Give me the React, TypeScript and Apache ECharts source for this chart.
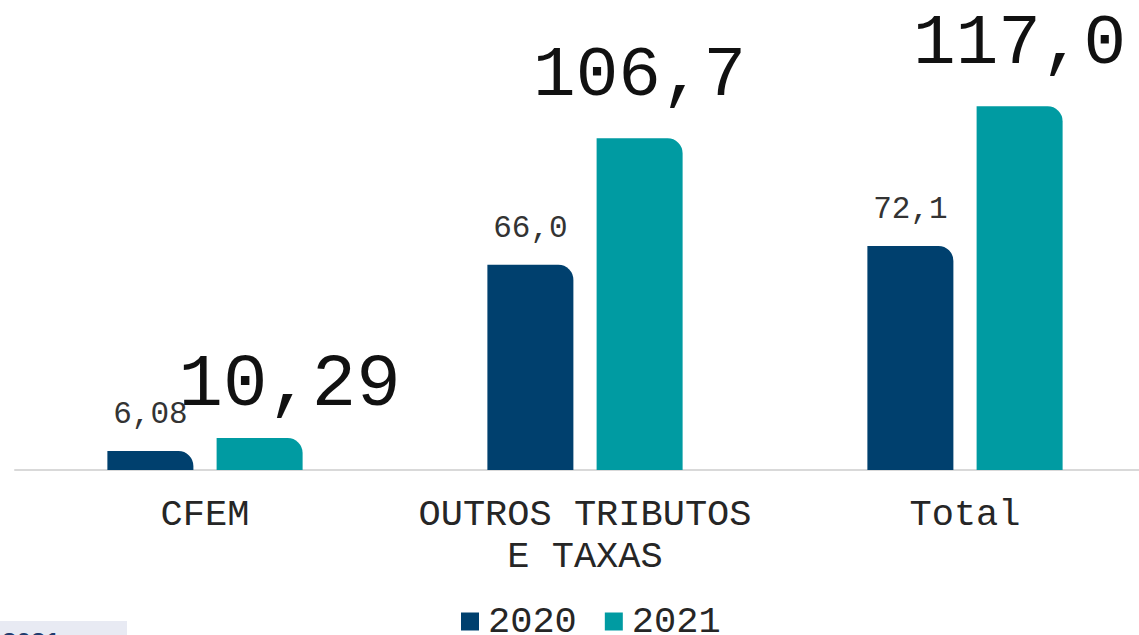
import React, { useEffect, useRef } from "react";
import * as echarts from "echarts";

const categories = ["CFEM", "OUTROS TRIBUTOS\nE TAXAS", "Total"];
const seriesNames = ["2020", "2021"];
const values2020 = [6.08, 66.0, 72.1];
const values2021 = [10.29, 106.7, 117.0];
const labels2020 = ["6,08", "66,0", "72,1"];
const labels2021 = ["10,29", "106,7", "117,0"];

const FONT = "'Liberation Mono', 'DejaVu Sans Mono', monospace";

export default function App() {
  const ref = useRef<HTMLDivElement>(null);
  useEffect(() => {
    document.body.style.margin = "0";
    const chart = echarts.init(ref.current!, null, { renderer: "svg" });
    chart.setOption({
      animation: false,
      backgroundColor: "#ffffff",
      grid: { left: 15, top: 97, width: 1140, bottom: 165, containLabel: false },
      legend: {
        data: seriesNames,
        top: 598,
        left: 456,
        itemWidth: 18,
        itemHeight: 18,
        itemGap: 28,
        icon: "rect",
        textStyle: { fontFamily: FONT, fontSize: 37, color: "#262626", padding: [0, 0, 0, 4] },
      },
      xAxis: {
        type: "category",
        data: categories,
        axisLine: { lineStyle: { color: "#d9d9d9", width: 2 } },
        axisTick: { show: false },
        axisLabel: {
          interval: 0,
          fontFamily: FONT,
          fontSize: 37,
          color: "#262626",
          lineHeight: 42,
          margin: 24,
        },
      },
      yAxis: {
        type: "value",
        min: 0,
        max: 120,
        show: false,
        splitLine: { show: false },
      },
      graphic: [
        { type: "rect", shape: { x: 0, y: 621, width: 127, height: 20 }, style: { fill: "#e8eaf3" } },
        {
          type: "text",
          x: 2,
          y: 629,
          style: { text: "2021", fontSize: 26, fontWeight: "bold", fill: "#1f3c6e", fontFamily: "'Liberation Sans', sans-serif" },
        },
      ],
      series: [
        {
          name: seriesNames[0],
          type: "bar",
          barWidth: 86,
          barGap: "27%",
          itemStyle: { color: "#00406e", borderRadius: [0, 15, 0, 0] },
          label: {
            show: true,
            position: "top",
            distance: 21,
            fontFamily: FONT,
            fontSize: 31,
            color: "#333333",
            formatter: (p: any) => labels2020[p.dataIndex],
          },
          data: values2020,
        },
        {
          name: seriesNames[1],
          type: "bar",
          barWidth: 86,
          itemStyle: { color: "#009ba2", borderRadius: [0, 15, 0, 0] },
          label: {
            show: true,
            position: "top",
            distance: 27,
            fontFamily: FONT,
            fontSize: 71,
            color: "#111111",
            formatter: (p: any) => labels2021[p.dataIndex],
          },
          data: values2021.map((v, i) =>
            i === 0 ? { value: v, label: { distance: 16, offset: [30, 0], fontSize: 74 } } : v
          ),
        },
      ],
    });
    return () => chart.dispose();
  }, []);
  return (
    <div style={{ width: 1139, height: 635, overflow: "hidden", position: "relative" }}>
      <div ref={ref} style={{ width: 1160, height: 635 }} />
    </div>
  );
}
